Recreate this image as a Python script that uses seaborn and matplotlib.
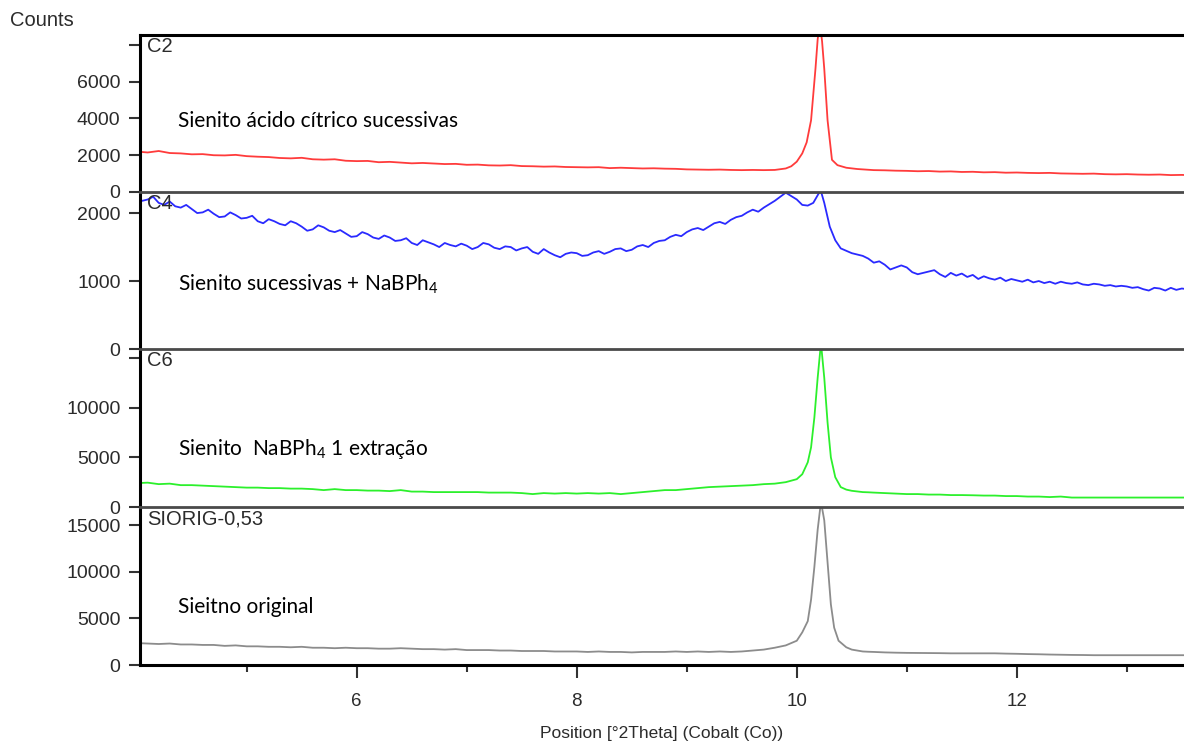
import numpy as np
import pandas as pd
import matplotlib
matplotlib.use("Agg")
import matplotlib.pyplot as plt
from matplotlib.ticker import MultipleLocator
import seaborn as sns

# ---------------- data ----------------
X_LEFT = [round(4.0 + 0.1 * i, 1) for i in range(58)]         # 4.0 .. 9.7
X_RIGHT = [round(10.7 + 0.1 * i, 1) for i in range(30)]       # 10.7 .. 13.6
X_LEFT_FINE = [round(4.0 + 0.05 * i, 2) for i in range(116)]  # 4.00 .. 9.75
X_RIGHT_FINE = [round(10.7 + 0.05 * i, 2) for i in range(59)] # 10.70 .. 13.60

c2_left = [2200, 2150, 2230, 2120, 2100, 2050, 2060, 2000, 1990, 2020,
           1950, 1920, 1900, 1850, 1830, 1860, 1780, 1760, 1780, 1700,
           1680, 1690, 1620, 1640, 1600, 1560, 1580, 1550, 1520, 1530,
           1480, 1490, 1450, 1440, 1460, 1410, 1400, 1380, 1390, 1360,
           1350, 1340, 1350, 1300, 1320, 1300, 1280, 1290, 1270, 1260,
           1230, 1220, 1210, 1220, 1200, 1190, 1200, 1190]
c2_peak_x = [9.8, 9.9, 9.95, 10.0, 10.05, 10.09, 10.13, 10.17, 10.19, 10.21,
             10.23, 10.25, 10.28, 10.32, 10.37, 10.45, 10.55, 10.65]
c2_peak = [1200, 1280, 1400, 1650, 2100, 2700, 3900, 6700, 8300, 9200,
           8200, 6700, 3900, 1750, 1460, 1320, 1250, 1210]
c2_right = [1190, 1180, 1160, 1150, 1130, 1140, 1110, 1120, 1090, 1100,
            1070, 1080, 1050, 1060, 1040, 1030, 1040, 1010, 1000, 990,
            1000, 970, 960, 970, 950, 940, 950, 920, 930, 910]

c4_left = [2230, 2180, 2200, 2240, 2150, 2120, 2170, 2100, 2080, 2120,
           2060, 2000, 2010, 2050, 1990, 1940, 1950, 2010, 1970, 1920,
           1930, 1960, 1880, 1850, 1910, 1880, 1840, 1820, 1880, 1850,
           1800, 1740, 1760, 1820, 1790, 1740, 1720, 1750, 1700, 1650,
           1660, 1720, 1690, 1640, 1620, 1670, 1640, 1590, 1600, 1630,
           1560, 1530, 1600, 1570, 1540, 1500, 1560, 1530, 1510, 1550,
           1520, 1470, 1500, 1560, 1540, 1490, 1470, 1510, 1500, 1450,
           1480, 1500, 1430, 1400, 1470, 1420, 1380, 1350, 1400, 1420,
           1410, 1370, 1380, 1420, 1440, 1400, 1430, 1470, 1480, 1440,
           1460, 1510, 1530, 1500, 1560, 1590, 1600, 1650, 1680, 1660,
           1720, 1760, 1780, 1750, 1800, 1850, 1870, 1840, 1900, 1940,
           1960, 2010, 2050, 2020, 2080, 2130]
c4_peak_x = [9.8, 9.85, 9.9, 9.95, 10.0, 10.05, 10.1, 10.15, 10.2, 10.22,
             10.25, 10.3, 10.35, 10.4, 10.5, 10.6, 10.65]
c4_peak = [2180, 2240, 2300, 2250, 2200, 2120, 2110, 2150, 2290, 2320,
           2150, 1800, 1600, 1480, 1410, 1370, 1330]
c4_right = [1270, 1290, 1240, 1170, 1200, 1230,
            1200, 1130, 1100, 1120, 1140, 1160, 1100, 1060, 1120, 1080,
            1110, 1060, 1090, 1030, 1070, 1040, 1020, 1050, 1000, 1030,
            1010, 990, 1020, 980, 1000, 970, 990, 960, 990, 970,
            960, 980, 950, 940, 960, 950, 930, 940, 920, 930,
            920, 900, 910, 880, 860, 900, 890, 860, 900, 870,
            890, 880, 870]

c6_left = [2400, 2450, 2300, 2350, 2200, 2200, 2150, 2100, 2050, 2000,
           1950, 1950, 1900, 1900, 1850, 1850, 1800, 1700, 1800, 1700,
           1700, 1650, 1650, 1600, 1700, 1550, 1550, 1500, 1500, 1500,
           1500, 1500, 1450, 1450, 1450, 1400, 1300, 1400, 1350, 1400,
           1350, 1400, 1350, 1400, 1300, 1400, 1500, 1600, 1700, 1700,
           1800, 1900, 2000, 2050, 2100, 2150, 2200, 2300]
c6_peak_x = [9.8, 9.9, 10.0, 10.05, 10.1, 10.13, 10.16, 10.19, 10.22, 10.25,
             10.28, 10.31, 10.35, 10.4, 10.45, 10.5, 10.6, 10.65]
c6_peak = [2350, 2500, 2800, 3300, 4500, 6000, 9000, 13000, 16500, 13000,
           8500, 5000, 3000, 2000, 1750, 1630, 1500, 1480]
c6_right = [1450, 1400, 1350, 1300, 1300, 1250, 1250, 1200, 1200, 1180,
            1150, 1150, 1100, 1100, 1050, 1050, 1000, 1050, 950, 950,
            950, 950, 950, 950, 950, 950, 950, 950, 950, 950]

so_left = [2350, 2300, 2250, 2300, 2200, 2200, 2150, 2150, 2050, 2100,
           2000, 2000, 1950, 1950, 1900, 1950, 1850, 1850, 1800, 1850,
           1800, 1800, 1750, 1750, 1800, 1750, 1700, 1700, 1650, 1700,
           1600, 1600, 1600, 1550, 1550, 1500, 1500, 1500, 1450, 1450,
           1450, 1400, 1450, 1400, 1400, 1350, 1400, 1400, 1400, 1450,
           1400, 1450, 1400, 1450, 1400, 1450, 1550, 1650]
so_peak_x = [9.8, 9.9, 10.0, 10.05, 10.1, 10.13, 10.16, 10.19, 10.22, 10.25,
             10.28, 10.31, 10.34, 10.38, 10.45, 10.5, 10.6, 10.65]
so_peak = [1850, 2100, 2600, 3500, 4700, 7000, 10500, 14500, 17500, 15500,
           11000, 6500, 4000, 2600, 1900, 1650, 1450, 1420]
so_right = [1400, 1350, 1320, 1300, 1290, 1280, 1270, 1250, 1250, 1250,
            1250, 1250, 1220, 1200, 1170, 1150, 1120, 1100, 1080, 1070,
            1050, 1050, 1050, 1050, 1050, 1050, 1050, 1050, 1050, 1050]

panel_names = ["C2", "C4", "C6", "SIORIG-0,53"]
panel_notes = ["Sienito ácido cítrico sucessivas",
               r"Sienito sucessivas + NaBPh$_\mathregular{4}$",
               r"Sienito  NaBPh$_\mathregular{4}$ 1 extração",
               "Sieitno original"]
panel_colors = ["#ff3b3b", "#2a2aff", "#2cf02c", "#8c8c8c"]
panel_ylim = [8540, 2310, 15900, 16930]
panel_yticks = [[0, 2000, 4000, 6000, 8000], [0, 1000, 2000],
                [0, 5000, 10000, 15000], [0, 5000, 10000, 15000]]
panel_yticklabels = [["0", "2000", "4000", "6000", ""], ["0", "1000", "2000"],
                     ["0", "5000", "10000", ""], ["0", "5000", "10000", "15000"]]
xticks_major = [6, 8, 10, 12]

curves = [(X_LEFT, c2_left, c2_peak_x, c2_peak, X_RIGHT, c2_right),
          (X_LEFT_FINE, c4_left, c4_peak_x, c4_peak, X_RIGHT_FINE, c4_right),
          (X_LEFT, c6_left, c6_peak_x, c6_peak, X_RIGHT, c6_right),
          (X_LEFT, so_left, so_peak_x, so_peak, X_RIGHT, so_right)]

# ---------------- style ----------------
sns.set_style("ticks")
plt.rcParams["font.family"] = ["Liberation Sans", "DejaVu Sans"]
plt.rcParams["mathtext.fontset"] = "custom"
plt.rcParams["mathtext.rm"] = "Lato"
TXT = "#2b2b2b"

W, H = 1184, 746
fig = plt.figure(figsize=(W / 100, H / 100), dpi=100)

bounds = [(35, 192), (192, 349), (349, 507), (507, 665)]
left_px = 140
XMIN, XMAX = 4.03, 13.52

axes = []
for i, ((top, bot), (xl, l, px, pk, xr, r)) in enumerate(zip(bounds, curves)):
    ax = fig.add_axes([left_px / W, 1 - bot / H, 1 - left_px / W, (bot - top) / H])
    axes.append(ax)
    df = pd.DataFrame({"x": xl + px + xr, "y": l + pk + r})
    sns.lineplot(data=df, x="x", y="y", ax=ax, color=panel_colors[i],
                 lw=1.3, estimator=None, sort=False, legend=False)
    ax.set_xlim(XMIN, XMAX)
    ax.set_ylim(0, panel_ylim[i])
    ax.set_yticks(panel_yticks[i])
    ax.set_yticklabels(panel_yticklabels[i], fontsize=14, color=TXT)
    ax.tick_params(axis="y", direction="out", length=8, width=1.5, color="#333333", pad=6)
    ax.set_xlabel("")
    ax.set_ylabel("")
    ax.spines["right"].set_visible(False)
    ax.spines["left"].set_linewidth(2.2)
    ax.spines["left"].set_color("black")
    if i == 0:
        ax.spines["top"].set_linewidth(2.2)
        ax.spines["top"].set_color("black")
    else:
        ax.spines["top"].set_linewidth(2.0)
        ax.spines["top"].set_color("#4a4a4a")
    if i < 3:
        ax.spines["bottom"].set_visible(False)
        ax.tick_params(axis="x", which="both", bottom=False, labelbottom=False)
    else:
        ax.spines["bottom"].set_linewidth(2.2)
        ax.spines["bottom"].set_color("black")
        ax.set_xticks(xticks_major)
        ax.set_xticklabels([str(t) for t in xticks_major], fontsize=13.5, color=TXT)
        ax.xaxis.set_minor_locator(MultipleLocator(1))
        ax.tick_params(axis="x", which="major", direction="out", length=9, width=1.5,
                       color="#333333", pad=11)
        ax.tick_params(axis="x", which="minor", direction="out", length=5, width=1.5,
                       color="#333333")
        ax.set_xlabel("Position [°2Theta] (Cobalt (Co))", fontsize=12.5, color=TXT,
                      labelpad=12)
    ax.patch.set_alpha(0)
    ax.text(0.007, 0.985, panel_names[i], transform=ax.transAxes, ha="left", va="top",
            fontsize=14.5, color=TXT)

note_y = [0.452, 0.414, 0.367, 0.367]
for ax, note, ny in zip(axes, panel_notes, note_y):
    ax.text(0.0364, ny, note, transform=ax.transAxes, ha="left", va="center",
            fontsize=15, color="black", family=["Lato", "DejaVu Sans"])

fig.text(10 / W, 1 - 20 / H, "Counts", ha="left", va="center", fontsize=14.5, color=TXT)

fig.savefig("out.png", dpi=100)
